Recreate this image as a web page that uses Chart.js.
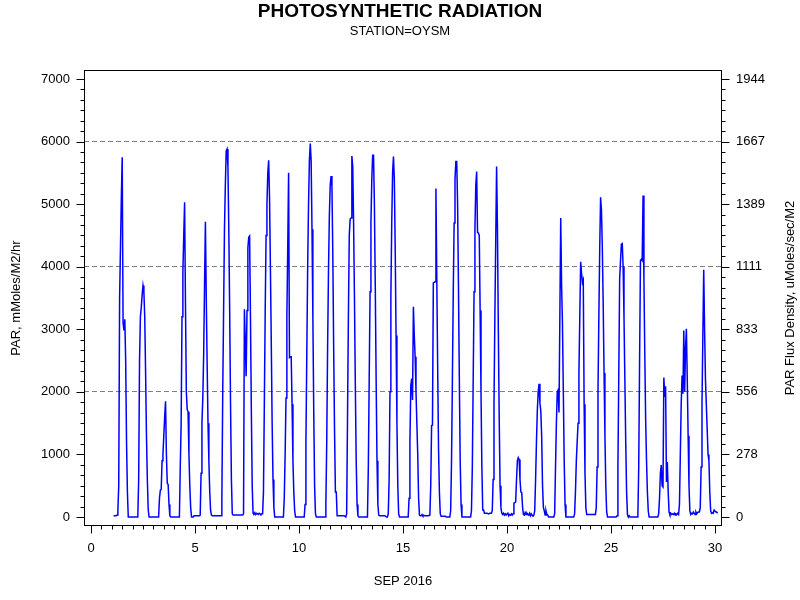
<!DOCTYPE html>
<html><head><meta charset="utf-8">
<script src="https://cdn.jsdelivr.net/npm/chart.js@4.4.1/dist/chart.umd.min.js"></script>
<style>html,body{margin:0;padding:0;background:#fff}</style>
</head><body>
<canvas id="c" width="800" height="600" style="width:800px;height:600px;display:block"></canvas>
<script>
// ---------- texts ----------
const TITLE = 'PHOTOSYNTHETIC RADIATION';
const SUBTITLE = 'STATION=OYSM';
const X_TITLE = 'SEP 2016';
const Y_LEFT_TITLE = 'PAR, mMoles/M2/hr';
const Y_RIGHT_TITLE = 'PAR Flux Density, uMoles/sec/M2';

// ---------- ticks ----------
const X_TICKS = [0, 5, 10, 15, 20, 25, 30];
const Y_LEFT_TICKS = [0, 1000, 2000, 3000, 4000, 5000, 6000, 7000];
const Y_RIGHT_TICK_LABELS = ['0', '278', '556', '833', '1111', '1389', '1667', '1944'];
const GRID_VALUES = [2000, 4000, 6000];
const CONVERSION = 3.6;   // mMoles/M2/hr  ->  uMoles/sec/M2

// ---------- hourly PAR values (mMoles/M2/hr), hour 0..23 of each day of SEP 2016 ----------
const day01 = [null,null,20,20,20,20,30,100,500,3500,4300,5100,5750,3100,2980,3160,2500,1200,400,0,0,0,0,0];
const day02 = [0,0,0,0,0,0,0,600,2500,3200,3350,3550,3700,3600,3200,2300,1300,600,120,0,0,0,0,0];
const day03 = [0,0,0,0,0,0,0,300,430,440,900,1000,1300,1600,1850,1000,540,520,200,20,0,0,0,0];
const day04 = [0,0,0,0,0,0,0,800,1500,3200,3900,4500,5030,3400,2000,1720,1680,1000,500,150,0,0,0,20];
const day05 = [20,20,20,20,20,20,30,700,1500,1900,2600,3700,4720,3500,2450,1500,900,400,100,30,20,20,20,20];
const day06 = [20,20,20,20,20,20,20,300,2000,3300,4600,5300,5850,5880,5600,4600,3300,1800,600,50,30,30,30,30];
const day07 = [30,30,30,30,30,30,30,30,50,3320,2800,2250,3300,4300,4470,4490,3200,1700,500,60,50,70,40,60];
const day08 = [50,40,60,50,40,50,50,400,1800,3300,4500,5000,5500,5700,5100,4000,2800,1500,600,150,0,0,0,0];
const day09 = [0,0,0,0,0,0,0,300,1000,1900,3200,4300,5500,2550,2560,2560,1800,900,400,100,0,0,0,0];
const day10 = [0,0,0,0,0,0,0,200,1200,2600,4000,5000,5700,5970,5700,4600,3200,1700,500,50,0,0,0,0];
const day11 = [0,0,0,0,0,0,0,200,1200,2700,3900,4800,5300,5450,5300,4200,2700,1390,400,400,20,20,20,20];
const day12 = [20,20,20,20,20,20,0,50,1600,3200,4500,4760,4780,5770,5600,4700,3500,2100,900,200,20,0,0,0];
const day13 = [0,0,0,0,0,0,0,0,800,2200,3600,4700,5400,5780,5780,5000,3700,2200,900,200,30,20,20,20];
const day14 = [20,20,20,20,10,0,0,50,600,2000,3500,4700,5500,5760,5400,4300,2900,1500,500,50,0,0,0,0];
const day15 = [0,0,0,0,0,0,0,300,1200,2100,2210,1870,3360,2900,2560,2000,1500,1000,300,30,20,20,40,20];
const day16 = [30,20,20,20,20,20,20,30,500,1460,1470,3740,3750,3760,5250,3800,2400,1100,400,50,10,10,10,10];
const day17 = [10,10,0,0,0,0,0,100,900,2200,3600,4700,5400,5680,5680,5000,3700,2200,900,200,0,0,0,0];
const day18 = [0,0,0,0,0,0,0,100,800,2200,3600,4600,5300,5520,4550,4540,4500,3300,2000,800,110,110,60,60];
const day19 = [60,60,60,50,60,60,60,100,600,1800,3200,4400,5600,4600,3000,1600,500,150,60,40,60,30,50,30];
const day20 = [30,60,20,40,30,50,30,50,220,230,240,600,900,950,920,600,400,390,150,40,30,70,40,60];
const day21 = [40,30,60,20,50,30,20,30,100,600,1200,1700,2000,2130,1820,1700,1300,500,150,100,30,100,40,30];
const day22 = [0,0,0,0,0,0,0,50,800,1500,2000,2030,1670,3200,4780,3700,3090,2000,900,200,0,0,0,0];
const day23 = [0,0,0,0,0,0,50,400,900,1200,1500,2300,3200,4080,3900,3750,3790,1800,700,150,40,40,40,40];
const day24 = [40,40,40,40,40,40,40,150,800,2000,3200,4300,5110,4900,4300,3400,2300,1300,500,80,0,0,0,0];
const day25 = [0,0,0,0,0,0,0,20,800,2300,3800,4100,4360,4370,4000,3200,2200,1200,400,40,0,20,0,0];
const day26 = [0,0,0,0,0,0,0,0,800,2500,4100,4120,4100,5140,3800,2600,1550,900,400,100,0,0,0,0];
const day27 = [0,0,0,0,0,0,0,50,300,700,830,500,480,2230,1920,2090,560,880,400,80,40,60,40,50];
const day28 = [40,60,30,50,40,60,40,200,1000,1800,2260,1970,2980,2000,2700,3010,2200,1300,500,100,40,60,50,80];
const day29 = [60,40,80,50,70,80,80,150,800,1800,2900,3950,3000,2200,1800,1400,1000,900,400,100,60,70,60,110];
const day30 = [110,80,80,60];

const DAYS = [day01,day02,day03,day04,day05,day06,day07,day08,day09,day10,
              day11,day12,day13,day14,day15,day16,day17,day18,day19,day20,
              day21,day22,day23,day24,day25,day26,day27,day28,day29,day30];

// build (x = day + hour/24, y = PAR) points
const points = [];
DAYS.forEach((vals, i) => {
  const day = i + 1;
  vals.forEach((v, h) => { if (v !== null) points.push({x: day + h / 24, y: v}); });
});

// axis ranges
const X_MIN = -0.337, X_MAX = 30.337;
const Y_MIN = -144, Y_MAX = 7144;

const FONT = '"Liberation Sans", Arial, Helvetica, sans-serif';
Chart.defaults.font.family = FONT;
Chart.defaults.font.size = 13;
Chart.defaults.color = '#000';

const frameAndTicks = {
  id: 'frameAndTicks',
  afterDraw(chart) {
    const {ctx, chartArea: a, scales} = chart;
    const L = Math.round(a.left), R = Math.round(a.right), T = Math.round(a.top), B = Math.round(a.bottom);
    ctx.save();
    ctx.strokeStyle = '#000';
    ctx.lineWidth = 1;
    ctx.strokeRect(L + 0.5, T + 0.5, R - L - 1, B - T - 1);
    ctx.beginPath();
    // vertical axes: major every 1000, 5 minor ticks between
    const yStep = 1000 / 6;
    for (let k = 0; k * yStep <= Y_MAX; k++) {
      const v = k * yStep;
      const y = Math.round(scales.y.getPixelForValue(v)) + 0.5;
      const len = (k % 6 === 0) ? 8 : 4;
      ctx.moveTo(L + 0.5 - len, y); ctx.lineTo(L + 0.5, y);
      const yr = Math.round(scales.y2.getPixelForValue(v / CONVERSION)) + 0.5;
      ctx.moveTo(R - 0.5, yr); ctx.lineTo(R - 0.5 + len, yr);
    }
    // horizontal axis: major every 5 days, minor every half day
    for (let k = 0; k <= 60; k++) {
      const x = Math.round(scales.x.getPixelForValue(k * 0.5)) + 0.5;
      const len = (k % 10 === 0) ? 8 : 4;
      ctx.moveTo(x, B - 0.5); ctx.lineTo(x, B - 0.5 + len);
    }
    ctx.stroke();
    // right axis title, rotated like the left one
    ctx.fillStyle = '#000';
    ctx.font = '13px ' + FONT;
    ctx.translate(790, (a.top + a.bottom) / 2);
    ctx.rotate(-Math.PI / 2);
    ctx.textAlign = 'center';
    ctx.textBaseline = 'middle';
    ctx.fillText(Y_RIGHT_TITLE, 0, 0);
    ctx.restore();
  }
};

new Chart(document.getElementById('c'), {
  type: 'line',
  data: {
    datasets: [{
      data: points,
      borderColor: '#0000ff',
      borderWidth: 1.5,
      pointRadius: 0,
      tension: 0,
      fill: false
    }]
  },
  options: {
    responsive: false,
    animation: false,
    devicePixelRatio: 1,
    layout: {padding: 0},
    plugins: {
      legend: {display: false},
      tooltip: {enabled: false},
      title: {
        display: true, text: TITLE,
        font: {size: 19, weight: 'bold', lineHeight: 1.2},
        padding: {top: 0, bottom: 0}, color: '#000'
      },
      subtitle: {
        display: true, text: SUBTITLE,
        font: {size: 13, lineHeight: 1.2},
        padding: {top: 0.5, bottom: 31.1}, color: '#000'
      }
    },
    scales: {
      x: {
        type: 'linear', position: 'bottom',
        min: X_MIN, max: X_MAX,
        afterBuildTicks: s => { s.ticks = X_TICKS.map(v => ({value: v})); },
        afterFit: s => { s.height = 74; },
        ticks: {autoSkip: false, maxRotation: 0, padding: 15, callback: v => String(v), font: {size: 13}},
        grid: {display: false, drawTicks: false},
        border: {display: false},
        title: {display: true, text: X_TITLE, font: {size: 13}, padding: {top: 0, bottom: 11}}
      },
      y: {
        type: 'linear', position: 'left',
        min: Y_MIN, max: Y_MAX,
        afterBuildTicks: s => { s.ticks = Y_LEFT_TICKS.map(v => ({value: v})); },
        afterFit: s => { s.width = 84; },
        ticks: {padding: 14, callback: v => String(v), font: {size: 13}},
        grid: {
          drawTicks: false,
          color: c => (c.tick && GRID_VALUES.includes(c.tick.value)) ? '#808080' : 'rgba(0,0,0,0)',
          lineWidth: 1
        },
        border: {display: false, dash: [5, 3]},
        title: {display: true, text: Y_LEFT_TITLE, font: {size: 13}, padding: {top: 9, bottom: 0}}
      },
      y2: {
        type: 'linear', position: 'right',
        min: Y_MIN / CONVERSION, max: Y_MAX / CONVERSION,
        afterBuildTicks: s => { s.ticks = Y_LEFT_TICKS.map(v => ({value: v / CONVERSION})); },
        afterFit: s => { s.width = 78; },
        ticks: {padding: 14, callback: (v, i) => Y_RIGHT_TICK_LABELS[i], font: {size: 13}},
        grid: {display: false, drawTicks: false},
        border: {display: false}
      }
    }
  },
  plugins: [frameAndTicks]
});
</script>
</body></html>
